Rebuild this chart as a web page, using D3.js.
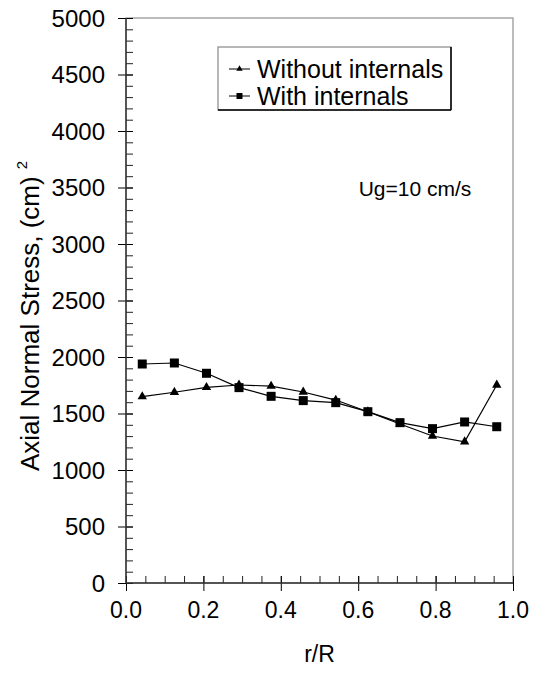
<!DOCTYPE html>
<html>
<head>
<meta charset="utf-8">
<script src="https://cdn.jsdelivr.net/npm/d3@7"></script>
<style>
body{margin:0;background:#fff;}
text{font-family:"Liberation Sans",Arial,sans-serif;fill:#000;}
</style>
</head>
<body>
<svg width="535" height="675"></svg>
<script>
var rR=[0.042,0.125,0.208,0.292,0.375,0.458,0.542,0.625,0.708,0.792,0.875,0.958];
var withoutInternals=[1650,1688,1732,1752,1743,1690,1619,1516,1407,1301,1250,1752];
var withInternals=[1938,1947,1856,1729,1652,1614,1596,1516,1419,1366,1425,1383];
var xTicks=[0,0.2,0.4,0.6,0.8,1.0];
var yTicks=[0,500,1000,1500,2000,2500,3000,3500,4000,4500,5000];
var seriesNames=["Without internals","With internals"];

var drawChart=function(){
var pLeft=126, pRight=513, pTop=18, pBottom=583;
var svg=d3.select("svg");

var x=d3.scaleLinear().domain([0,1]).range([pLeft,pRight]);
var y=d3.scaleLinear().domain([0,5000]).range([pBottom,pTop]);

// frame (top and right are light grey)
svg.append("rect")
.attr("x",pLeft).attr("y",pTop)
.attr("width",pRight-pLeft).attr("height",pBottom-pTop)
.attr("fill","none").attr("stroke","#a6a6a6").attr("stroke-width",1.5);

// minor ticks, inside
svg.append("g")
.attr("transform","translate("+pLeft+",0)")
.call(d3.axisRight(y).ticks(50).tickSize(7).tickFormat(""))
.call(function(g){g.select(".domain").remove();g.selectAll("line").attr("stroke","#222");});
svg.append("g")
.attr("transform","translate(0,"+pBottom+")")
.call(d3.axisTop(x).ticks(25).tickSize(7).tickFormat(""))
.call(function(g){g.select(".domain").remove();g.selectAll("line").attr("stroke","#222");});

// major ticks crossing the axis
svg.append("g")
.attr("transform","translate("+(pLeft+7)+",0)")
.call(d3.axisLeft(y).tickValues(yTicks).tickSize(15).tickFormat(""))
.call(function(g){g.select(".domain").remove();g.selectAll("line").attr("stroke","#000");});
svg.append("g")
.attr("transform","translate(0,"+(pBottom-7)+")")
.call(d3.axisBottom(x).tickValues(xTicks).tickSize(15).tickFormat(""))
.call(function(g){g.select(".domain").remove();g.selectAll("line").attr("stroke","#000");});

// axis lines
svg.append("line").attr("x1",pLeft).attr("x2",pLeft).attr("y1",pTop).attr("y2",pBottom)
.attr("stroke","#333").attr("stroke-width",1.5);
svg.append("line").attr("x1",pLeft).attr("x2",pRight).attr("y1",pBottom).attr("y2",pBottom)
.attr("stroke","#333").attr("stroke-width",1.5);

// tick labels
svg.selectAll("text.ylab")
.data(yTicks)
.enter()
.append("text")
.attr("class","ylab")
.attr("x",pLeft-21)
.attr("y",function(d){return y(d);})
.attr("dy","0.36em")
.attr("text-anchor","end")
.attr("font-size",24)
.text(function(d){return d;});

svg.selectAll("text.xlab")
.data(xTicks)
.enter()
.append("text")
.attr("class","xlab")
.attr("x",function(d){return x(d);})
.attr("y",pBottom+35)
.attr("text-anchor","middle")
.attr("font-size",23)
.text(function(d){return d.toFixed(1);});

// axis titles
svg.append("text")
.attr("x",x(0.5)).attr("y",662)
.attr("text-anchor","middle").attr("font-size",23)
.text("r/R");

var yt=svg.append("text")
.attr("transform","translate(39,316) rotate(-90)")
.attr("text-anchor","middle").attr("font-size",26);
yt.append("tspan").text("Axial Normal Stress, (cm)");
yt.append("tspan").attr("font-size",15).attr("dx",7).attr("dy",-12).text("2");

// data lines
var line=d3.line()
.x(function(d,i){return x(rR[i]);})
.y(function(d){return y(d);});

svg.append("path").datum(withoutInternals)
.attr("d",line).attr("fill","none").attr("stroke","#000").attr("stroke-width",1.2);
svg.append("path").datum(withInternals)
.attr("d",line).attr("fill","none").attr("stroke","#000").attr("stroke-width",1.2);

var tri=d3.symbol().type(d3.symbolTriangle).size(38);
svg.selectAll("path.tri")
.data(withoutInternals)
.enter()
.append("path")
.attr("class","tri")
.attr("d",tri)
.attr("transform",function(d,i){return "translate("+x(rR[i])+","+y(d)+")";})
.attr("fill","#000");

svg.selectAll("rect.sq")
.data(withInternals)
.enter()
.append("rect")
.attr("class","sq")
.attr("x",function(d,i){return x(rR[i])-4.5;})
.attr("y",function(d){return y(d)-4.5;})
.attr("width",9).attr("height",9)
.attr("fill","#000");

// legend
var lg=svg.append("g");
lg.append("rect")
.attr("x",218).attr("y",47).attr("width",233).attr("height",63)
.attr("fill","#fff").attr("stroke","#888").attr("stroke-width",1.2);
lg.append("line").attr("x1",451).attr("x2",451).attr("y1",47).attr("y2",110).attr("stroke","#000").attr("stroke-width",1.5);
lg.append("line").attr("x1",218).attr("x2",451).attr("y1",110).attr("y2",110).attr("stroke","#000").attr("stroke-width",1.5);

var rows=[69,96];
seriesNames.forEach(function(name,i){
  lg.append("line").attr("x1",229).attr("x2",250).attr("y1",rows[i]).attr("y2",rows[i])
  .attr("stroke","#000").attr("stroke-width",1);
  if(i==0){
    lg.append("path").attr("d",d3.symbol().type(d3.symbolTriangle).size(18))
    .attr("transform","translate(239.5,"+rows[i]+")").attr("fill","#000");
  } else {
    lg.append("rect").attr("x",236.5).attr("y",rows[i]-3).attr("width",6).attr("height",6).attr("fill","#000");
  }
  lg.append("text").attr("x",257).attr("y",rows[i]).attr("dy","0.36em")
  .attr("font-size",25).text(name);
});

svg.append("text")
.attr("x",415).attr("y",196)
.attr("text-anchor","middle").attr("font-size",21)
.text("Ug=10 cm/s");
};

drawChart();
</script>
</body>
</html>
